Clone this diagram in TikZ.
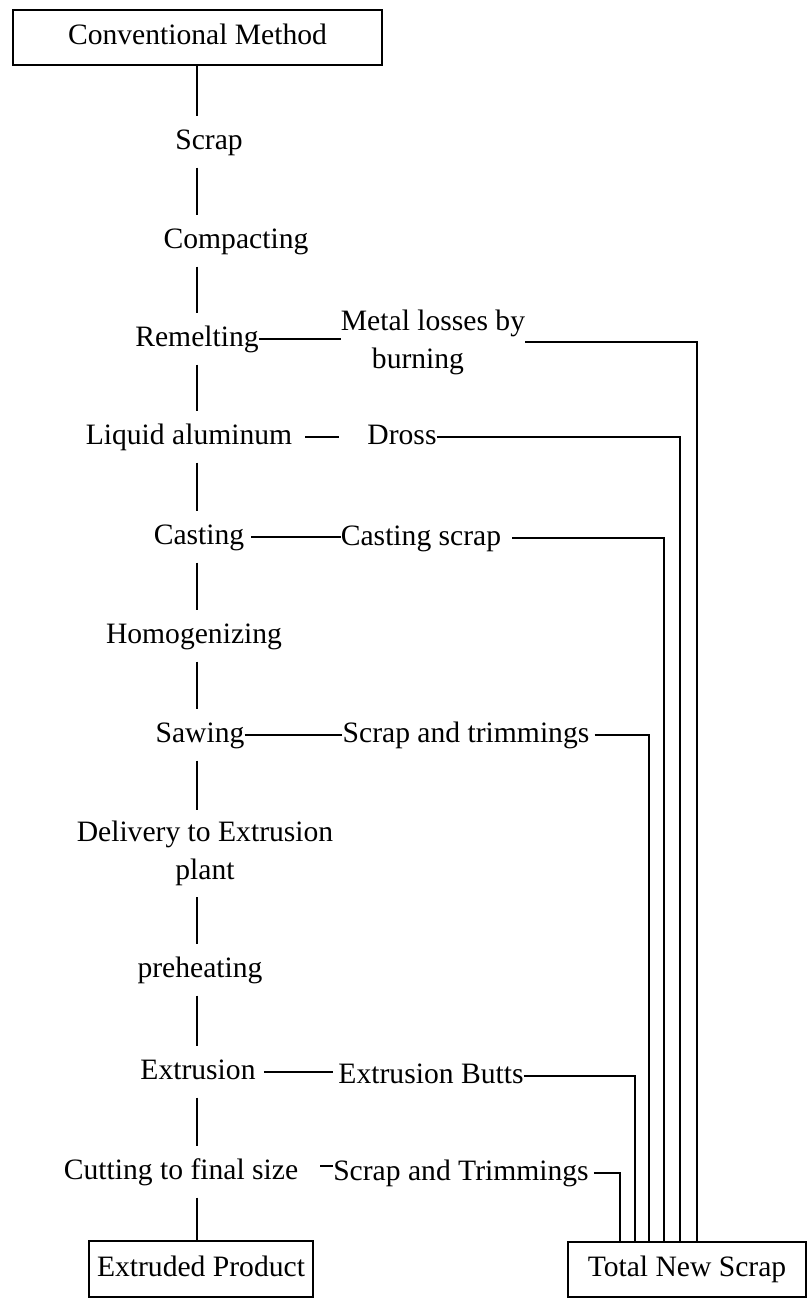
\documentclass[tikz,border=0pt]{standalone}
\usepackage{fontspec}
\setmainfont{Liberation Serif}
\begin{document}
\begin{tikzpicture}[x=1pt,y=-1pt,
  txt/.style={font=\fontsize{29.6}{38}\selectfont},
  lbl/.style={txt, inner sep=0pt, text height=21pt, text depth=7pt, minimum height=51pt},
  lbltwo/.style={txt, inner sep=0pt, align=center},
  boxnode/.style={txt, draw, line width=2.4pt, inner sep=0pt, text height=21pt, text depth=7pt},
  conn/.style={line width=1.8pt}]
\useasboundingbox (0,0) rectangle (809,1299);
% spine and bus coordinates
\coordinate (spine) at (197,0);
\coordinate (b1) at (697,0);
\coordinate (b2) at (680,0);
\coordinate (b3) at (664,0);
\coordinate (b4) at (649,0);
\coordinate (b5) at (635,0);
\coordinate (b6) at (620,0);
% main column
\node[boxnode, minimum width=369pt, minimum height=55pt] (conv) at (197.5,37.5) {Conventional Method};
\node[lbl] (scrap) at (209,142) {Scrap};
\node[lbl] (compact) at (236,241) {Compacting};
\node[lbl] (remelt) at (197,339) {Remelting};
\node[lbl] (liquid) at (189,437) {Liquid aluminum};
\node[lbl] (cast) at (199,537) {Casting};
\node[lbl] (homog) at (194,636) {Homogenizing};
\node[lbl] (saw) at (200,735) {Sawing};
\node[lbltwo, minimum height=87pt] (deliv) at (205,853.5) {Delivery to Extrusion\\plant};
\node[lbl] (preheat) at (200,970) {preheating};
\node[lbl] (extr) at (198,1072) {Extrusion};
\node[lbl] (cut) at (181,1172) {Cutting to final size};
\node[boxnode, minimum width=224pt, minimum height=56pt] (prod) at (201,1269) {Extruded Product};
% scrap column
\node[lbltwo] (metal) at (433,342) {Metal losses by\\burning\kern30pt};
\node[lbl] (dross) at (402,437) {Dross};
\node[lbl] (castscr) at (421,538) {Casting scrap};
\node[lbl] (sawscr) at (466,735) {Scrap and trimmings};
\node[lbl] (butts) at (431,1076) {Extrusion Butts};
\node[lbl] (cutscr) at (461,1173) {Scrap and Trimmings};
\node[boxnode, minimum width=238pt, minimum height=55pt] (tns) at (687,1269.5) {Total New Scrap};
% spine connectors
\foreach \a/\b in {conv/scrap, scrap/compact, compact/remelt, remelt/liquid, liquid/cast,
  cast/homog, homog/saw, saw/deliv, deliv/preheat, preheat/extr, extr/cut, cut/prod}
  \draw[conn] (\a.south -| spine) -- (\b.north -| spine);
% side connectors
\draw[conn] (remelt.east) -- (remelt.east -| metal.west);
\draw[conn] (metal.east) -| (b1 |- tns.north);
\draw[conn, shorten <=13pt, shorten >=28pt] (liquid.east) -- (liquid.east -| dross.west);
\draw[conn] (dross.east) -| (b2 |- tns.north);
\draw[conn, shorten <=7pt] (cast.east) -- (cast.east -| castscr.west);
\draw[conn, shorten <=11pt] (castscr.east) -| (b3 |- tns.north);
\draw[conn] (saw.east) -- (saw.east -| sawscr.west);
\draw[conn, shorten <=5pt] (sawscr.east) -| (b4 |- tns.north);
\draw[conn, shorten <=8pt, shorten >=5pt] (extr.east) -- (extr.east -| butts.west);
\draw[conn] (butts.east) -| (b5 |- tns.north);
\draw[conn, shorten <=22pt] ([yshift=6pt]cut.east) -- ([yshift=6pt]cut.east -| cutscr.west);
\draw[conn, shorten <=5pt] (cutscr.east) -| (b6 |- tns.north);
\end{tikzpicture}
\end{document}
